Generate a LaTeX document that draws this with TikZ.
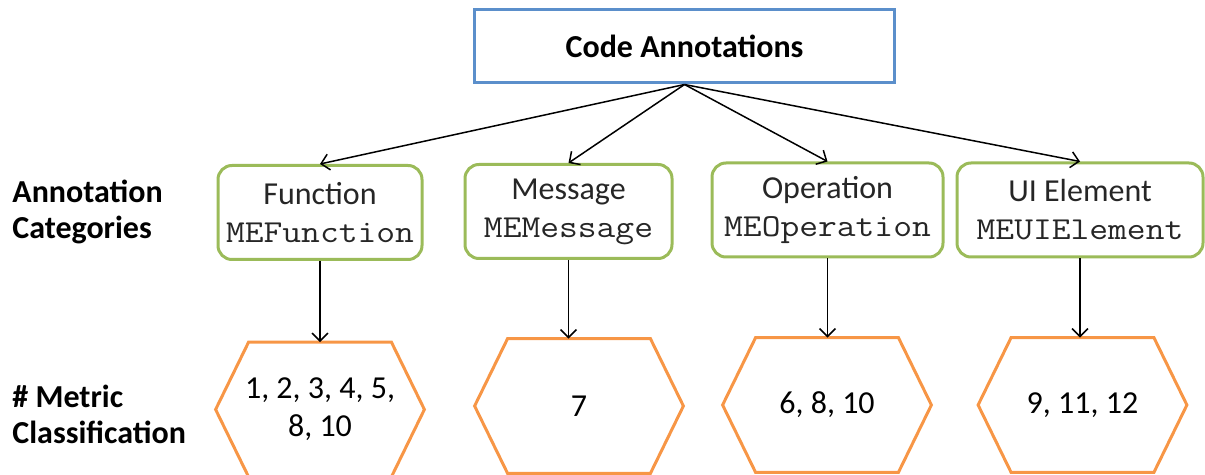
\documentclass[tikz,border=0pt]{standalone}
\usepackage{fontspec}
\setmainfont{Carlito}
\setmonofont{Latin Modern Mono}[FakeStretch=1.14]
\usetikzlibrary{arrows.meta,positioning}
\definecolor{rootblue}{HTML}{5B8FCB}
\definecolor{catgreen}{HTML}{9BBB59}
\definecolor{metorange}{HTML}{F79646}

\begin{document}
\begin{tikzpicture}[
  x=0.5pt, y=-0.5pt,
  every node/.style={font=\fontsize{16}{19}\selectfont},
  root/.style={draw=rootblue, line width=1.5pt, minimum width=210pt,
               minimum height=36.5pt, font=\fontsize{16}{19}\selectfont\bfseries},
  cat/.style={draw=catgreen, line width=1.5pt, rounded corners=7pt,
              minimum height=47pt, align=center, inner sep=0pt,
              text=black!85},
  metric/.style={minimum width=104pt, minimum height=67pt, align=center, inner sep=0pt},
  hexline/.style={draw=metorange, line width=1.5pt, line join=miter},
  side/.style={anchor=west, align=left, inner sep=0pt,
               font=\fontsize{16}{18}\selectfont\bfseries},
  arr/.style={-{Straight Barb[length=4pt,width=8pt]}, line width=0.75pt}
]
  \useasboundingbox (0,0) rectangle (1205,475);

  \node[root] (code) at (684.5,46.5) {Code Annotations};

  % annotation categories
  \node[cat, minimum width=102pt]   (fun) at (320,212.5)   {Function\\\texttt{MEFunction}};
  \node[cat, minimum width=103.5pt] (msg) at (568.5,211.5) {Message\\\texttt{MEMessage}};
  \node[cat, minimum width=115.5pt] (op)  at (827.5,210)   {Operation\\\texttt{MEOperation}};
  \node[cat, minimum width=123pt]   (ui)  at (1080,210)    {UI Element\\\texttt{MEUIElement}};

  % metric classification
  \node[metric] (hfun) at (320,409.5) {1, 2, 3, 4, 5,\\8, 10};
  \node[metric] (hmsg) at (579,406)   {7};
  \node[metric] (hop)  at (827,405)   {6, 8, 10};
  \node[metric] (hui)  at (1082.5,405) {9, 11, 12};
  \foreach \h in {hfun,hmsg,hop,hui}
    \draw[hexline] (\h.west) -- ([xshift=16.5pt]\h.north west)
      -- ([xshift=-16.5pt]\h.north east) -- (\h.east)
      -- ([xshift=-16.5pt]\h.south east) -- ([xshift=16.5pt]\h.south west) -- cycle;

  \node[side] (lcat) at (12,212) {Annotation\\Categories};
  \node[side] (lmet) at (12,414) {\# Metric\\Classification};

  \foreach \c in {fun,msg,op,ui}
    \draw[arr] (code.south) -- (\c.north);
  \draw[arr] (fun.south) -- (fun.south |- hfun.north);
  \draw[arr] (msg.south) -- (msg.south |- hmsg.north);
  \draw[arr] (op.south)  -- (op.south |- hop.north);
  \draw[arr] (ui.south)  -- (ui.south |- hui.north);
\end{tikzpicture}
\end{document}
